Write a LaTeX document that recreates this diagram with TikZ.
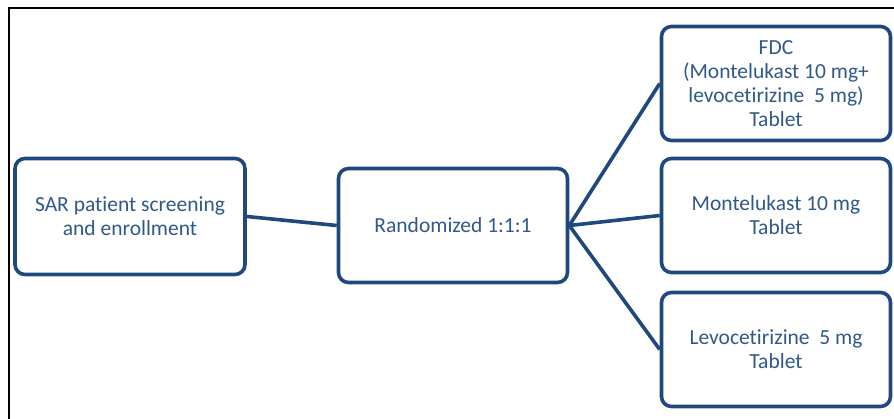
\documentclass[tikz,border=0pt]{standalone}
\usepackage{fontspec}
\setmainfont{Carlito}[Ligatures = NoCommon]
\usepackage{tikz}

\definecolor{boxblue}{HTML}{1F497D}
\definecolor{textblue}{HTML}{30598A}

\begin{document}
\begin{tikzpicture}[x = 1pt, y = 1pt,
		box/.style = {draw = boxblue, line width = 3.6pt, rounded corners = 10pt, fill = white, text = textblue, align = center, minimum width = 229pt, minimum height = 114pt, font = \fontsize{21.5}{24}\selectfont},
		link/.style = {draw = boxblue, line width = 3.6pt}]
		\useasboundingbox (0, 0) rectangle (894, 419);
		\draw[line width = 2pt] (9, 0) -- (9, 411) -- (894, 411);
		\node[box, minimum width = 230pt, minimum height = 116pt] (scr) at (130, 202.5) {SAR patient screening\\and enrollment};
		\node[box] (rnd) at (453, 193.5) {Randomized 1:1:1};
		\node[box] (fdc) at (776, 335.5) {FDC\\(Montelukast 10 mg+\\levocetirizine\ \ 5 mg)\\Tablet};
		\node[box] (mon) at (776, 203.5) {Montelukast 10 mg\\Tablet};
		\node[box] (lev) at (776, 69.5) {Levocetirizine\ \ 5 mg\\Tablet};
		\draw[link] (scr.east) -- (rnd.west);
		\foreach \b in {fdc, mon, lev}
			\draw[link] (rnd.east) -- (\b.west);
		\end{tikzpicture}
\end{document}
